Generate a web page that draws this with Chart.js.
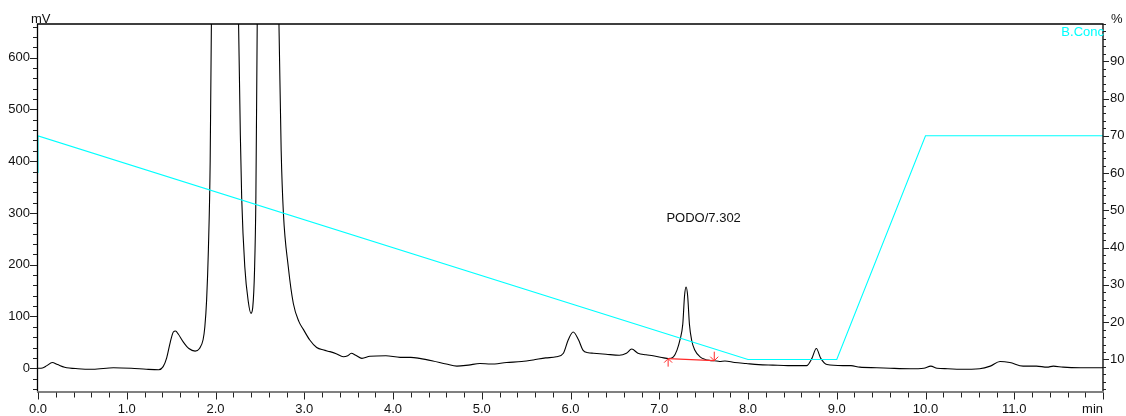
<!DOCTYPE html>
<html>
<head>
<meta charset="utf-8">
<script src="https://cdn.jsdelivr.net/npm/chart.js@4.4.1/dist/chart.umd.min.js"></script>
<style>
  html, body { margin: 0; padding: 0; background: #fff; }
  #wrap { width: 1126px; height: 416px; }
</style>
</head>
<body>
<div id="wrap"><canvas id="chromChart" width="1126" height="416"></canvas></div>
<script>
// detector trace: retention time (min) / signal (mV)
const traceTime = [
  0.00, 0.05, 0.10, 0.16, 0.22, 0.30, 0.45, 0.62, 0.85, 1.05, 1.22, 1.36, 1.41, 1.45, 1.49,
  1.525, 1.55, 1.58, 1.64, 1.70, 1.77, 1.82, 1.86, 1.88, 1.90, 1.92, 1.94, 1.96, 2.00, 2.10,
  2.20, 2.26, 2.28, 2.295, 2.33, 2.37, 2.40, 2.42, 2.44, 2.455, 2.47, 2.50, 2.58, 2.66, 2.715,
  2.74, 2.765, 2.82, 2.877, 2.94, 2.99, 3.06, 3.14, 3.22, 3.29, 3.36, 3.44, 3.49, 3.53, 3.58,
  3.65, 3.74, 3.92, 4.08, 4.20, 4.30, 4.45, 4.60, 4.72, 4.85, 4.98, 5.10, 5.28, 5.45, 5.58,
  5.72, 5.84, 5.92, 5.975, 6.03, 6.09, 6.14, 6.20, 6.26, 6.40, 6.55, 6.63, 6.69, 6.76, 6.85,
  6.93, 7.05, 7.10, 7.16, 7.20, 7.234, 7.265, 7.285, 7.302, 7.32, 7.34, 7.365, 7.40, 7.46, 7.57,
  7.62, 7.68, 7.74, 7.85, 7.98, 8.12, 8.28, 8.45, 8.66, 8.72, 8.77, 8.82, 8.89, 9.07, 9.16,
  9.26, 9.45, 9.60, 9.83, 9.98, 10.06, 10.13, 10.25, 10.39, 10.61, 10.73, 10.84, 10.95, 11.10, 11.25,
  11.37, 11.44, 11.55, 11.75, 12.00
];
const traceMv = [
  0, 0.5, 5, 11, 7, 2, -1, -2, 1, 0, -2, -3, 3, 20, 50,
  70, 72, 66, 50, 38, 33, 38, 55, 80, 132, 230, 400, 800, 1600, 2200,
  1400, 665, 450, 330, 196, 128, 106, 118, 190, 330, 665, 1200, 1600, 1100, 665,
  420, 300, 196, 125, 90, 75, 55, 40, 35, 32, 28, 22, 24, 29, 25,
  19, 23, 24, 21, 21, 19, 14, 8, 4, 6, 9, 8, 11, 13, 16,
  20, 22, 29, 55, 70, 55, 35, 30, 29, 27, 25, 29, 37, 29, 26,
  24, 20, 18.5, 22, 35, 55, 85, 140, 157, 140, 85, 54, 35, 22, 15,
  14.5, 13, 14, 11, 9, 7, 6, 5, 5, 19, 38, 19, 7, 5, 5,
  2, 1, 0, -1, 0, 4, 0, -1, -2, -1, 4, 13, 11, 4, 4,
  2, 4, 2, 1, 1
];

// pump gradient: B concentration (%)
const concTime = [0, 0, 8, 9, 10, 12];
const concPct = [60, 70, 10, 10, 70, 70];

// integration baseline drawn under the PODO peak
const baseTime = [7.10, 7.62];
const baseMv = [18.5, 14.5];

// peak annotation (time, mV)
const peakText = 'PODO/7.302';
const peakTextAt = [7.5, 293];

// labelled (major) ticks
const timeMajor = [0, 1, 2, 3, 4, 5, 6, 7, 8, 9, 10, 11];
const mvMajor = [0, 100, 200, 300, 400, 500, 600];
const pctMajor = [10, 20, 30, 40, 50, 60, 70, 80, 90];

const FONT = "'Liberation Sans', Arial, sans-serif";
const CYAN = '#00ffff';
const INK = '#111';

const near = (v, list) => list.some(m => Math.abs(v - m) < 1e-6);
const xy = (xs, ys) => xs.map((x, i) => ({ x: x, y: ys[i] }));

// evenly spaced tick positions (major + minor)
const steps = (from, to, step) => {
  const out = [];
  for (let i = 0; from + i * step <= to + 1e-9; i++) {
    out.push(Math.round((from + i * step) * 1000) / 1000);
  }
  return out;
};
const setTicks = values => scale => { scale.ticks = values.map(v => ({ value: v })); };

// axes frame, tick marks and captions
const frameAndTicks = {
  id: 'frameAndTicks',
  afterDraw(chart) {
    const { ctx, chartArea: a, scales } = chart;
    const { x: sx, y: sy, y2: sp } = scales;
    ctx.save();

    // left / top / right in black, time axis in grey
    ctx.strokeStyle = '#000';
    ctx.lineWidth = 1.3;
    ctx.beginPath();
    ctx.moveTo(a.left - 0.5, a.bottom);
    ctx.lineTo(a.left - 0.5, a.top);
    ctx.lineTo(a.right, a.top);
    ctx.lineTo(a.right, a.bottom);
    ctx.stroke();
    ctx.strokeStyle = '#808080';
    ctx.lineWidth = 2;
    ctx.beginPath();
    ctx.moveTo(a.left - 1, a.bottom + 0.5);
    ctx.lineTo(a.right + 0.5, a.bottom + 0.5);
    ctx.stroke();

    // tick marks, long on labelled values
    ctx.strokeStyle = '#222';
    ctx.lineWidth = 1;
    ctx.beginPath();
    sx.ticks.forEach(t => {
      const px = Math.round(sx.getPixelForValue(t.value)) + 0.5;
      const len = near(t.value, timeMajor) || t.value === 12 ? 7 : 5;
      ctx.moveTo(px, a.bottom + 1);
      ctx.lineTo(px, a.bottom + 1 + len);
    });
    sy.ticks.forEach(t => {
      const py = Math.round(sy.getPixelForValue(t.value)) + 0.5;
      const len = near(t.value, mvMajor) ? 7 : 4;
      ctx.moveTo(a.left - 1, py);
      ctx.lineTo(a.left - 1 - len, py);
    });
    sp.ticks.forEach(t => {
      const py = Math.round(sp.getPixelForValue(t.value)) + 0.5;
      const len = near(t.value, pctMajor) ? 6 : 3;
      ctx.moveTo(a.right, py);
      ctx.lineTo(a.right + len, py);
    });
    ctx.stroke();

    // integration markers at both ends of the baseline
    const bx0 = sx.getPixelForValue(baseTime[0]);
    const by0 = sy.getPixelForValue(baseMv[0]);
    const bx1 = sx.getPixelForValue(baseTime[1]);
    const by1 = sy.getPixelForValue(baseMv[1]);
    ctx.strokeStyle = '#ff2a2a';
    ctx.lineWidth = 1;
    ctx.beginPath();
    ctx.moveTo(bx0, by0 + 8);
    ctx.lineTo(bx0, by0);
    ctx.moveTo(bx0 - 4, by0 + 4);
    ctx.lineTo(bx0, by0);
    ctx.lineTo(bx0 + 4, by0 + 4);
    ctx.moveTo(bx1, by1 - 9);
    ctx.lineTo(bx1, by1);
    ctx.moveTo(bx1 - 4, by1 - 4);
    ctx.lineTo(bx1, by1);
    ctx.lineTo(bx1 + 4, by1 - 4);
    ctx.stroke();

    // captions
    ctx.font = '13px ' + FONT;
    ctx.fillStyle = INK;
    ctx.textBaseline = 'alphabetic';
    ctx.textAlign = 'left';
    ctx.fillText('mV', a.left - 7, a.top - 1);
    ctx.fillText('%', a.right + 8, a.top - 1.5);
    ctx.textAlign = 'right';
    ctx.fillText('min', a.right, a.bottom + 21);
    ctx.textAlign = 'center';
    ctx.fillText(peakText, sx.getPixelForValue(peakTextAt[0]),
      sy.getPixelForValue(peakTextAt[1]) + 5);
    ctx.fillStyle = CYAN;
    ctx.textAlign = 'right';
    ctx.fillText('B.Conc', a.right + 1, a.top + 12);
    ctx.restore();
  }
};

const tickFont = { family: FONT, size: 13 };
const clearGrid = len => ({
  display: true, drawOnChartArea: false, drawTicks: true, tickLength: len, color: 'rgba(0,0,0,0)'
});

new Chart(document.getElementById('chromChart'), {
  type: 'line',
  data: {
    datasets: [
      {
        label: 'B.Conc',
        data: xy(concTime, concPct),
        yAxisID: 'y2',
        borderColor: CYAN,
        borderWidth: 1.1,
        pointRadius: 0,
        tension: 0,
        order: 0
      },
      {
        label: 'baseline',
        data: xy(baseTime, baseMv),
        yAxisID: 'y',
        borderColor: '#ff2a2a',
        borderWidth: 1.2,
        pointRadius: 0,
        tension: 0,
        order: 1
      },
      {
        label: 'Detector A',
        data: xy(traceTime, traceMv),
        yAxisID: 'y',
        borderColor: '#000',
        borderWidth: 1.1,
        pointRadius: 0,
        cubicInterpolationMode: 'monotone',
        order: 2
      }
    ]
  },
  options: {
    responsive: false,
    animation: false,
    events: [],
    layout: { padding: { top: 24, left: 0, right: 0, bottom: 0 } },
    plugins: {
      legend: { display: false },
      tooltip: { enabled: false }
    },
    scales: {
      x: {
        type: 'linear',
        position: 'bottom',
        min: 0,
        max: 12,
        bounds: 'data',
        grid: clearGrid(7),
        border: { display: false },
        afterBuildTicks: setTicks(steps(0, 12, 0.2)),
        ticks: {
          autoSkip: false,
          maxRotation: 0,
          padding: 3,
          color: INK,
          font: tickFont,
          callback: v => (near(v, timeMajor) ? v.toFixed(1) : '')
        },
        afterFit: s => { s.height = 24.5; }
      },
      y: {
        type: 'linear',
        position: 'left',
        min: -45,
        max: 665,
        bounds: 'data',
        grid: clearGrid(7),
        border: { display: false },
        afterBuildTicks: setTicks(steps(-40, 660, 20)),
        ticks: {
          autoSkip: false,
          padding: 1,
          color: INK,
          font: tickFont,
          callback: v => (near(v, mvMajor) ? String(v) : '')
        },
        afterFit: s => { s.width = 38; }
      },
      y2: {
        type: 'linear',
        position: 'right',
        min: 1.4,
        max: 100,
        bounds: 'data',
        grid: clearGrid(6),
        border: { display: false },
        afterBuildTicks: setTicks(steps(2, 100, 2)),
        ticks: {
          autoSkip: false,
          padding: 1,
          color: INK,
          font: tickFont,
          callback: v => (near(v, pctMajor) ? String(v) : '')
        },
        afterFit: s => { s.width = 23; }
      }
    }
  },
  plugins: [frameAndTicks]
});
</script>
</body>
</html>
